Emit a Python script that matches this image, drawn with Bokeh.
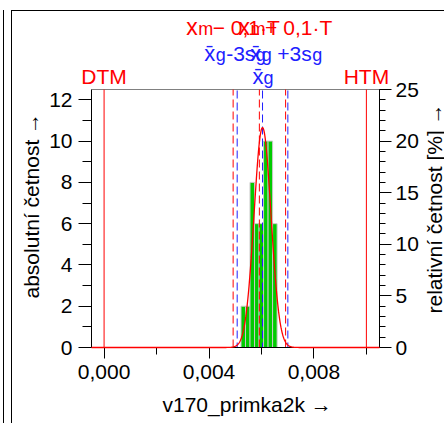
import math
import numpy as np
from bokeh.plotting import figure
from bokeh.models import (Label, LinearAxis, Range1d, FixedTicker,
                          SingleIntervalTicker, CustomJSTickFormatter)
from bokeh.embed import file_html
from bokeh.resources import INLINE

# ---------------- data ----------------
bin_edges = [0.00522, 0.005392, 0.005564, 0.005736, 0.005908, 0.00608, 0.006252, 0.006424, 0.006596]
bin_counts = [2, 2, 8, 6, 6, 10, 10, 6]
n_total = sum(bin_counts)
bin_width = 0.000172

DTM = 0.0
HTM = 0.010
T = HTM - DTM
x_m = 0.00592
mean_g = 0.00604
s_g = 0.000322

x_ticks = [0.0, 0.004, 0.008]
x_minor = [0.002, 0.006, 0.010]
x_title = "v170_primka2k →"
y_title = "absolutní četnost →"
y2_title = "relativní četnost [%] →"

# ---------------- layout ----------------
W, H = 444, 423
FX0, FX1 = 91, 379      # px of plot area left/right
FY0, FY1 = 89, 347      # px of plot area top/bottom
XR = (-0.00048, 0.0105)
YR = (0, 12.5)
SHIFT = 9.5             # baseline correction (px)


def px2x(px):
    return XR[0] + (px - FX0) / (FX1 - FX0) * (XR[1] - XR[0])


def py2y(py):
    return YR[0] + (FY1 - py) / (FY1 - FY0) * (YR[1] - YR[0])


FONT = "Liberation Sans"
RED = "#ff0000"
BLUE = "#2020ff"

p = figure(width=W, height=H,
           x_range=Range1d(px2x(0), px2x(W)), y_range=Range1d(py2y(H), py2y(0)),
           output_backend="svg", toolbar_location=None,
           min_border=0, min_border_left=0, min_border_right=0,
           min_border_top=0, min_border_bottom=0,
           background_fill_color=None, border_fill_color=None,
           outline_line_color=None)
p.xgrid.visible = False
p.ygrid.visible = False

p.styles = {
    "box-shadow": ("inset 0 10px 0 0 #fff, inset 3px 0 0 0 #fff, inset 4px 0 0 0 #000, "
                   "inset 11px 0 0 0 #fff, inset 12px 0 0 0 #000, inset 0 11px 0 0 #000"),
}

rel = 100.0 / n_total
p.extra_y_ranges = {"rel": Range1d(py2y(H) * rel, py2y(0) * rel)}


def style_axis(ax, tick_out, minor_out, standoff):
    ax.axis_line_color = "black"
    ax.major_tick_in = 0
    ax.minor_tick_in = 0
    ax.major_tick_out = tick_out
    ax.minor_tick_out = minor_out
    ax.major_tick_line_color = "black"
    ax.minor_tick_line_color = "black"
    ax.major_label_text_font = FONT
    ax.major_label_text_font_size = "21px"
    ax.major_label_text_color = "black"
    ax.major_label_standoff = standoff


xax = p.xaxis[0]
xax.ticker = FixedTicker(ticks=x_ticks, minor_ticks=x_minor)
xax.formatter = CustomJSTickFormatter(code="return tick.toFixed(3).replace('.', ',');")
xax.fixed_location = YR[0]
xax.bounds = XR
style_axis(xax, 11, 7, 6)

yax = p.yaxis[0]
yax.ticker = SingleIntervalTicker(interval=2, num_minor_ticks=2)
yax.fixed_location = XR[0]
yax.bounds = YR
style_axis(yax, 13, 9, 6)

rax = LinearAxis(y_range_name="rel", ticker=SingleIntervalTicker(interval=5, num_minor_ticks=5),
                 fixed_location=XR[1], bounds=(YR[0] * rel, YR[1] * rel))
style_axis(rax, 12, 6, 4)
p.add_layout(rax, "right")

# top border of the plot area
p.segment(x0=[XR[0]], y0=[YR[1]], x1=[XR[1]], y1=[YR[1]], line_color="#808080", line_width=1)

# histogram
p.quad(left=bin_edges[:-1], right=bin_edges[1:], bottom=0, top=bin_counts,
       fill_color="#00cc00", line_color="#c8c8c8", line_width=1)

# limit lines
lim = [DTM, HTM]
p.segment(x0=lim, x1=lim, y0=YR[0], y1=YR[1], line_color=RED, line_width=1)
red_d = [x_m - 0.1 * T, x_m, x_m + 0.1 * T]
p.segment(x0=red_d, x1=red_d, y0=YR[0], y1=YR[1], line_color=RED, line_width=1, line_dash="8 4")
blue_d = [mean_g - 3 * s_g, mean_g, mean_g + 3 * s_g]
p.segment(x0=blue_d, x1=blue_d, y0=YR[0], y1=YR[1], line_color=BLUE, line_width=1,
          line_dash="8 4", line_dash_offset=3)

# normal curve
xs = np.linspace(XR[0], XR[1], 800)
ys = n_total * bin_width / (s_g * math.sqrt(2 * math.pi)) * np.exp(-0.5 * ((xs - mean_g) / s_g) ** 2)
curve = p.line(xs, ys, line_color=RED, line_width=1.3)
curve.level = "overlay"


def piece(txt, xv, dx, base_py, size, color, align="left"):
    p.add_layout(Label(x=xv, y=py2y(base_py - SHIFT), x_offset=dx, text=txt,
                       text_font=FONT, text_font_size="%dpx" % size, text_color=color,
                       text_align=align, text_baseline="alphabetic"))


# red labels
for v, sign in [(x_m - 0.1 * T, "−"), (x_m + 0.1 * T, "+")]:
    piece("x", v, -47, 36, 23, RED)
    piece("m", v, -35, 37.5, 18, RED)
    piece(sign + " 0,1·T", v, -20.5, 36, 21, RED)

# blue labels
piece("x\u0304", mean_g - 3 * s_g, -33, 62, 22, BLUE)
piece("g", mean_g - 3 * s_g, -21.5, 63.5, 18, BLUE)
piece("-3s", mean_g - 3 * s_g, -11, 62, 21, BLUE)
piece("g", mean_g - 3 * s_g, 18.5, 63.5, 18, BLUE)

piece("x\u0304", mean_g + 3 * s_g, -37.5, 62, 22, BLUE)
piece("g", mean_g + 3 * s_g, -26, 63.5, 18, BLUE)
piece("+3s", mean_g + 3 * s_g, -10.5, 62, 21, BLUE)
piece("g", mean_g + 3 * s_g, 24.5, 63.5, 18, BLUE)

piece("x\u0304", mean_g, -10, 85, 22, BLUE)
piece("g", mean_g, 1, 86.5, 18, BLUE)

piece("DTM", DTM, 0, 85, 21, RED, "center")
piece("HTM", HTM, 0, 85, 21, RED, "center")

# axis titles
p.add_layout(Label(x=px2x(162), y=py2y(413 - SHIFT), text=x_title, text_font=FONT,
                   text_font_size="21px", text_color="black",
                   text_align="left", text_baseline="alphabetic"))
p.add_layout(Label(x=px2x(40 - SHIFT), y=py2y(298), text=y_title, text_font=FONT,
                   text_font_size="21px", text_color="black", angle=math.pi / 2,
                   text_align="left", text_baseline="alphabetic"))
p.add_layout(Label(x=px2x(443 - SHIFT), y=py2y(313), text=y2_title, text_font=FONT,
                   text_font_size="21px", text_color="black", angle=math.pi / 2,
                   text_align="left", text_baseline="alphabetic"))

open("out.html", "w").write(file_html(p, INLINE))
